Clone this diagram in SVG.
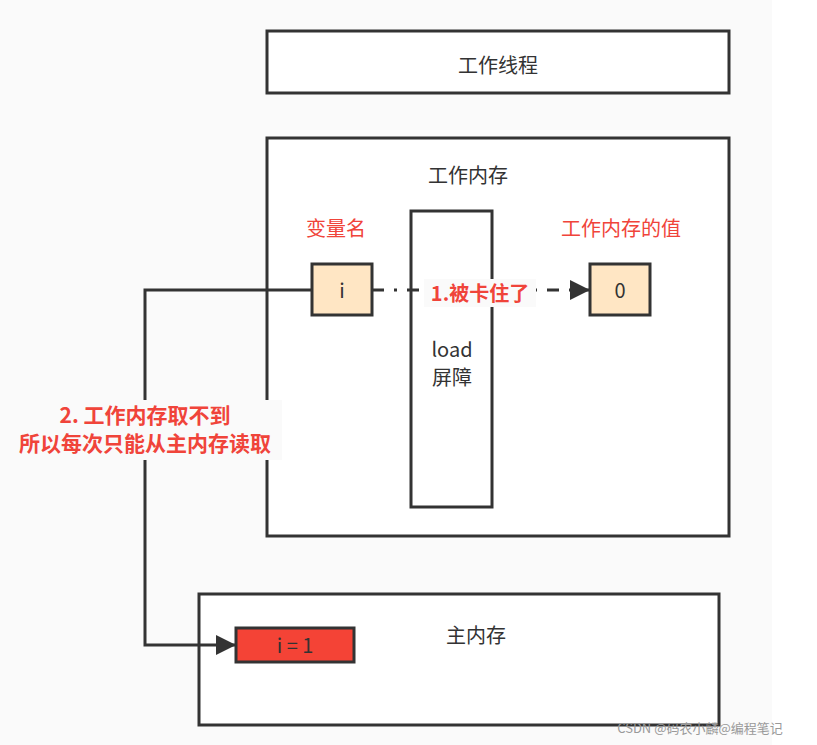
<svg xmlns="http://www.w3.org/2000/svg" width="817" height="745" viewBox="0 0 817 745">
<style>
text{font-family:"Noto Sans CJK SC","Noto Sans",sans-serif;text-anchor:middle}
.b{fill:#fff;stroke:#333;stroke-width:3}
.v{fill:#ffe6c4;stroke:#333;stroke-width:3}
.t{font-size:20px;fill:#333}
.r{font-size:20px;fill:#f0443a}
.rb{font-size:20px;fill:#f0443a;font-weight:bold}
</style>
<defs>
<marker id="a2" viewBox="0 0 12 12" markerWidth="24" markerHeight="20" refX="12" refY="6" orient="auto" markerUnits="userSpaceOnUse"><path d="M0,0L12,6L0,12z" fill="#333"/></marker></defs>
<rect width="817" height="745" fill="#fafafa"/>
<rect x="772" width="45" height="745" fill="#fff"/>
<g id="thread"><rect class="b" x="267" y="31" width="462" height="62"/><text class="t" x="498" y="73">工作线程</text></g>
<g id="workmem"><rect class="b" x="267" y="138" width="462" height="398"/><text class="t" x="468" y="183">工作内存</text>
<text class="r" x="336" y="236">变量名</text><text class="r" x="621" y="236">工作内存的值</text></g>
<g id="barrier"><rect class="b" x="411" y="211" width="81" height="296"/><text class="t" x="452" y="357">load</text><text class="t" x="452" y="385">屏障</text></g>
<g id="vi"><rect class="v" x="312" y="264" width="60" height="51"/><text class="t" x="342" y="298">i</text></g>
<g id="v0"><rect class="v" x="590" y="264" width="60" height="51"/><text class="t" x="620" y="298">0</text></g>
<g id="main"><rect class="b" x="199" y="594" width="520" height="131"/><text class="t" x="476" y="643">主内存</text></g>
<g id="mi"><rect x="236" y="628" width="118" height="34" fill="#f44336" stroke="#333" stroke-width="3"/><text class="t" x="295" y="653">i = 1</text></g>
<g id="connectors" fill="none" stroke="#333" stroke-width="3">
<path d="M372,290H590" stroke-dasharray="12,10,3,10" marker-end="url(#a2)"/>
<path d="M312,290H145V645H236" marker-end="url(#a2)"/>
</g>
<g id="labels">
<rect x="424" y="279" width="112" height="28" fill="#fafafa"/>
<text class="rb" x="480" y="301">1.被卡住了</text>
<rect x="12" y="400" width="270" height="60" fill="#fafafa"/>
<text class="rb" x="145" y="423" style="font-size:21px">2. 工作内存取不到</text>
<text class="rb" x="145" y="451" style="font-size:21px">所以每次只能从主内存读取</text>
</g>
<text x="700" y="733" style="font-size:13px;fill:#999">CSDN @码农小麟@编程笔记</text>
</svg>
